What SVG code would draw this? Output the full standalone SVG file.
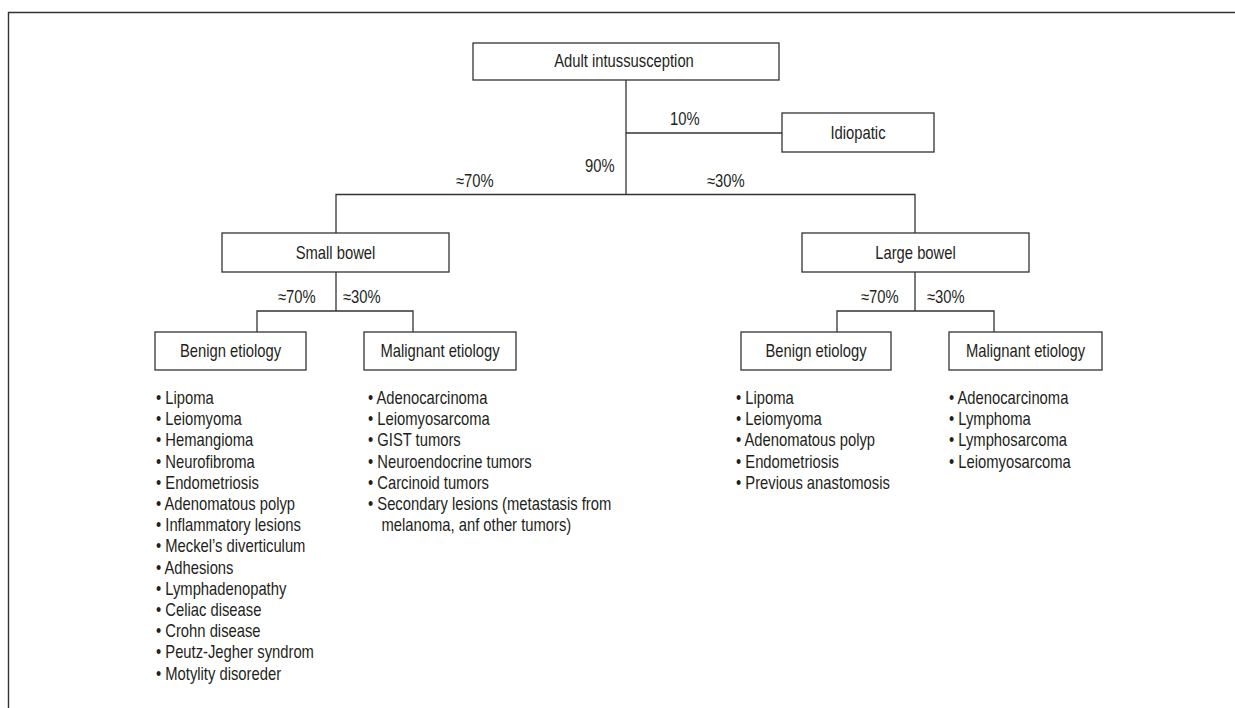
<svg xmlns="http://www.w3.org/2000/svg" width="1235" height="708" viewBox="0 0 1235 708">
<style>
.bg{fill:#fff}
.frame{fill:none;stroke:#333;stroke-width:1.4}
.box{fill:#fff;stroke:#333;stroke-width:1.3}
.conn{fill:none;stroke:#333;stroke-width:1.3}
text{font-family:"Liberation Sans",Arial,sans-serif;font-size:17.5px;fill:#231f20}
.c{text-anchor:middle}
</style>
<rect class="bg" x="0" y="0" width="1235" height="708"/>
<path class="frame" d="M8.5,708 V12.5 H1235"/>
<g id="connectors">
<path class="conn" d="M626,80 V194.5"/>
<path class="conn" d="M626,133 H782"/>
<path class="conn" d="M336,233 V194.5 H915 V233"/>
<path class="conn" d="M336,272 V311 M257,332 V311 H413 V332"/>
<path class="conn" d="M915,272 V311 M837,332 V311 H994 V332"/>
<text transform="translate(670,125) scale(.845 1)">10%</text>
<text transform="translate(585,172) scale(.845 1)">90%</text>
<text transform="translate(456,187) scale(.845 1)">≈70%</text>
<text transform="translate(707,187) scale(.845 1)">≈30%</text>
<text transform="translate(278,303) scale(.845 1)">≈70%</text>
<text transform="translate(343,303) scale(.845 1)">≈30%</text>
<text transform="translate(861,303) scale(.845 1)">≈70%</text>
<text transform="translate(927,303) scale(.845 1)">≈30%</text>
</g>
<g id="adult">
<rect class="box" x="473" y="43" width="306" height="37"/>
<text class="c" transform="translate(624,67) scale(.845 1)">Adult intussusception</text>
</g>
<g id="idiopatic">
<rect class="box" x="782" y="113" width="152" height="39"/>
<text class="c" transform="translate(858,139) scale(.845 1)">Idiopatic</text>
</g>
<g id="small-bowel">
<rect class="box" x="222" y="233" width="227" height="39"/>
<text class="c" transform="translate(335.5,259) scale(.845 1)">Small bowel</text>
</g>
<g id="large-bowel">
<rect class="box" x="802" y="233" width="227" height="39"/>
<text class="c" transform="translate(915.5,259) scale(.845 1)">Large bowel</text>
</g>
<g id="small-benign">
<rect class="box" x="155" y="332" width="151" height="38"/>
<text class="c" transform="translate(230.5,357) scale(.845 1)">Benign etiology</text>
<text transform="translate(156,404) scale(.845 1)">
<tspan x="0" dy="0">• Lipoma</tspan>
<tspan x="0" dy="21.2">• Leiomyoma</tspan>
<tspan x="0" dy="21.2">• Hemangioma</tspan>
<tspan x="0" dy="21.2">• Neurofibroma</tspan>
<tspan x="0" dy="21.2">• Endometriosis</tspan>
<tspan x="0" dy="21.2">• Adenomatous polyp</tspan>
<tspan x="0" dy="21.2">• Inflammatory lesions</tspan>
<tspan x="0" dy="21.2">• Meckel’s diverticulum</tspan>
<tspan x="0" dy="21.2">• Adhesions</tspan>
<tspan x="0" dy="21.2">• Lymphadenopathy</tspan>
<tspan x="0" dy="21.2">• Celiac disease</tspan>
<tspan x="0" dy="21.2">• Crohn disease</tspan>
<tspan x="0" dy="21.2">• Peutz-Jegher syndrom</tspan>
<tspan x="0" dy="21.2">• Motylity disoreder</tspan>
</text>
</g>
<g id="small-malignant">
<rect class="box" x="364" y="332" width="152" height="38"/>
<text class="c" transform="translate(440,357) scale(.845 1)">Malignant etiology</text>
<text transform="translate(368,404) scale(.845 1)">
<tspan x="0" dy="0">• Adenocarcinoma</tspan>
<tspan x="0" dy="21.2">• Leiomyosarcoma</tspan>
<tspan x="0" dy="21.2">• GIST tumors</tspan>
<tspan x="0" dy="21.2">• Neuroendocrine tumors</tspan>
<tspan x="0" dy="21.2">• Carcinoid tumors</tspan>
<tspan x="0" dy="21.2">• Secondary lesions (metastasis from</tspan>
<tspan x="16" dy="21.2">melanoma, anf other tumors)</tspan>
</text>
</g>
<g id="large-benign">
<rect class="box" x="741" y="332" width="150" height="38"/>
<text class="c" transform="translate(816,357) scale(.845 1)">Benign etiology</text>
<text transform="translate(736,404) scale(.845 1)">
<tspan x="0" dy="0">• Lipoma</tspan>
<tspan x="0" dy="21.2">• Leiomyoma</tspan>
<tspan x="0" dy="21.2">• Adenomatous polyp</tspan>
<tspan x="0" dy="21.2">• Endometriosis</tspan>
<tspan x="0" dy="21.2">• Previous anastomosis</tspan>
</text>
</g>
<g id="large-malignant">
<rect class="box" x="949" y="332" width="153" height="38"/>
<text class="c" transform="translate(1025.5,357) scale(.845 1)">Malignant etiology</text>
<text transform="translate(949,404) scale(.845 1)">
<tspan x="0" dy="0">• Adenocarcinoma</tspan>
<tspan x="0" dy="21.2">• Lymphoma</tspan>
<tspan x="0" dy="21.2">• Lymphosarcoma</tspan>
<tspan x="0" dy="21.2">• Leiomyosarcoma</tspan>
</text>
</g>
</svg>
